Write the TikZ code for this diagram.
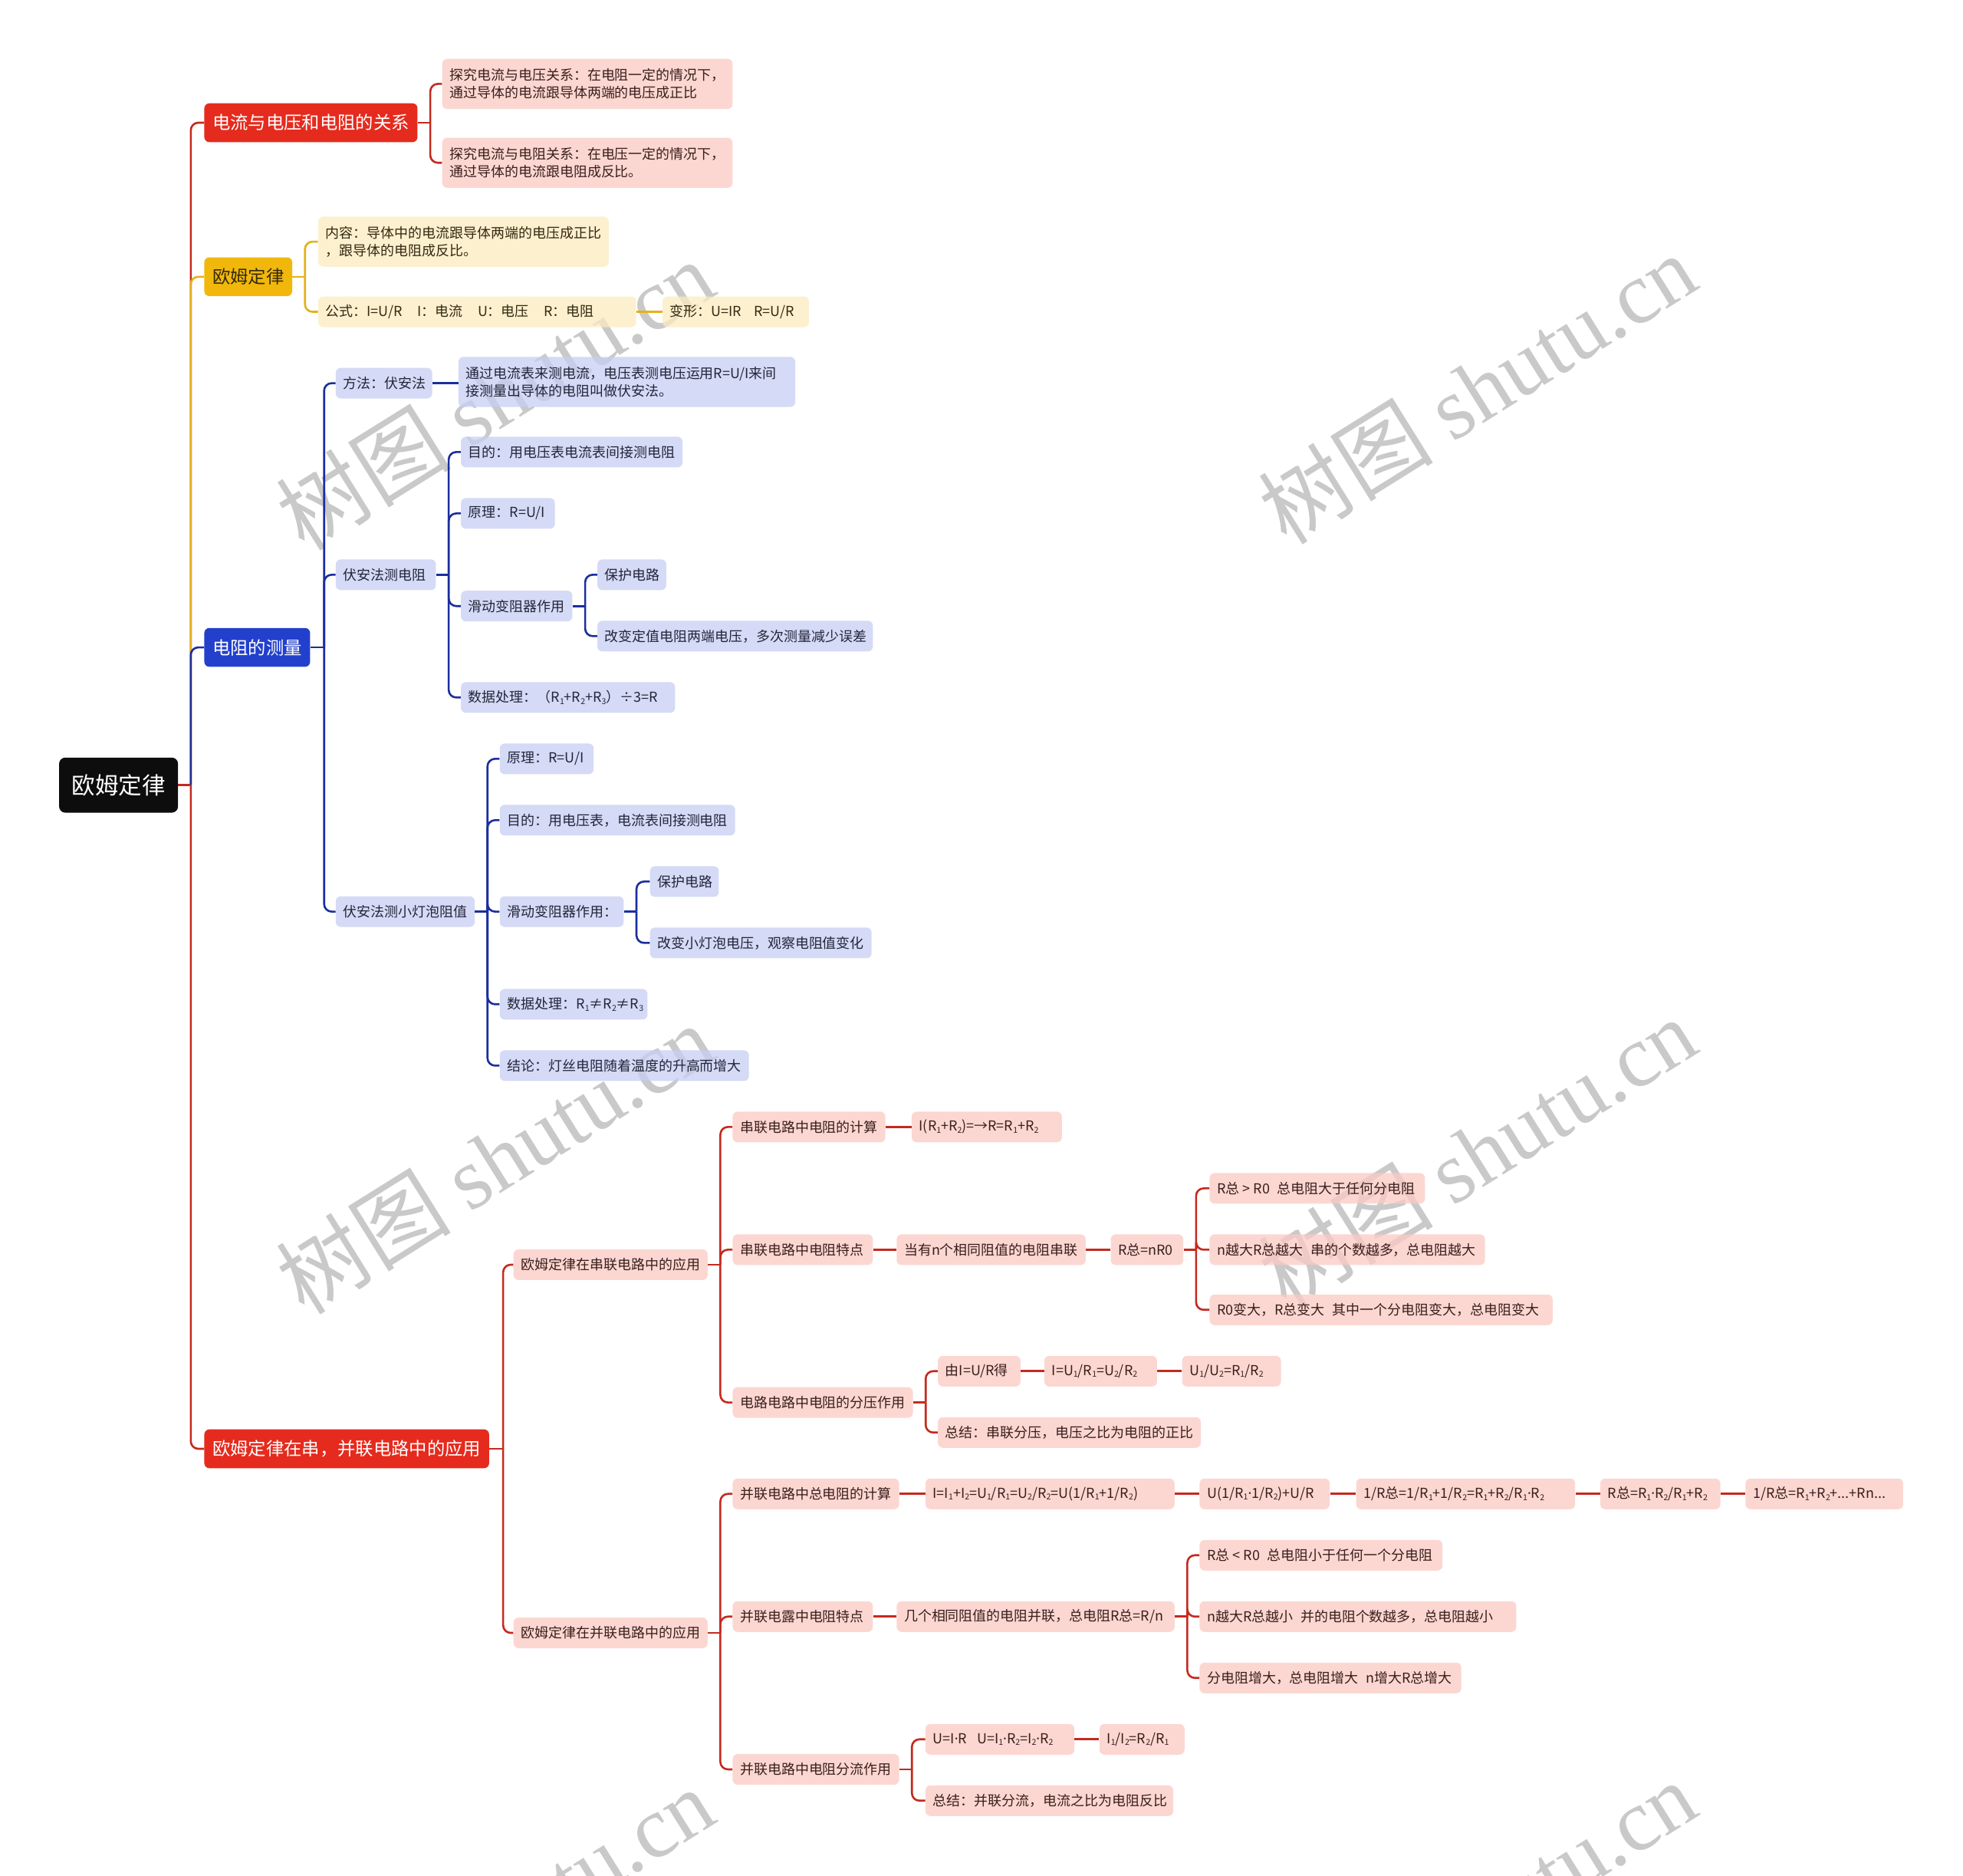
\documentclass[tikz,border=0pt]{standalone}
\usepackage{fontspec}
\setmainfont{Noto Sans CJK SC}
\newfontfamily\wmlat{Liberation Serif}
\newfontfamily\latf{Noto Sans}
\usetikzlibrary{calc}
\definecolor{rootc}{HTML}{0D0D0D}
\definecolor{redL}{HTML}{E52B1E}
\definecolor{yelL}{HTML}{F1B80B}
\definecolor{bluL}{HTML}{2340CC}
\definecolor{pinkF}{HTML}{FBCAC4}
\definecolor{yelF}{HTML}{FCEBC0}
\definecolor{bluF}{HTML}{C7CEF3}
\definecolor{redC}{HTML}{C42A1F}
\definecolor{yelC}{HTML}{E3B21A}
\definecolor{bluC}{HTML}{1B2E9E}
\definecolor{txtR}{HTML}{3A1E1B}
\definecolor{txtY}{HTML}{33290F}
\definecolor{txtB}{HTML}{23263A}
\definecolor{wmc}{HTML}{C9C9C9}
\newcommand\sbs[1]{\raisebox{-0.25ex}{\fontsize{6.5}{7}\selectfont #1}}
\newcommand\cdt{{\latf ·}}
\tikzset{
 nb/.style={rounded corners=4pt, anchor=west, inner xsep=6pt, inner ysep=2pt, minimum height=24.5pt, font=\fontsize{11}{14}\selectfont, fill opacity=0.75, text opacity=1},
 pk/.style={nb, fill=pinkF, text=txtR},
 yl/.style={nb, fill=yelF, text=txtY},
 lv/.style={nb, fill=bluF, text=txtB},
 two/.style={align=left, minimum height=40pt, text width=#1pt-12pt},
 bw/.style={minimum width=#1pt},
 lw/.style={execute at begin node={\hbox to \dimexpr #1pt-12pt\relax\bgroup}, execute at end node={\hfil\egroup}},
 topn/.style={rounded corners=4pt, anchor=west, inner xsep=6.5pt, minimum height=31pt, font=\fontsize{14.3}{16}\selectfont, text=white},
 rc/.style={draw=redC, line width=1.6pt},
 yc/.style={draw=yelC, line width=1.6pt},
 bc/.style={draw=bluC, line width=1.6pt},
 br/.style={rounded corners=6pt},
 wm/.style={text=wmc, rotate=32, font=\fontsize{70}{70}\selectfont},
}
\begin{document}
\begin{tikzpicture}[x=1pt,y=-1pt]
\path[use as bounding box, fill=white] (0,0) rectangle (1568,1498);

% ---------- watermarks (behind) ----------
\foreach \wx/\wy [count=\i] in {395/315, 1180/310, 395/925, 1180/920, 395/1535, 1180/1530}
  \node[wm] (wm\i) at (\wx,\wy) {树图 {\wmlat shutu.cn}};

% ---------- nodes ----------
\node[rounded corners=5pt, anchor=west, fill=rootc, text=white, minimum width=95pt, minimum height=44pt, font=\fontsize{18.7}{20}\selectfont] (root) at (47,627) {欧姆定律};

\node[topn, fill=redL, bw=170] (A) at (163,98) {电流与电压和电阻的关系};
\node[topn, fill=yelL, text=txtY, bw=70] (B) at (163,221) {欧姆定律};
\node[topn, fill=bluL, bw=84] (C) at (163,517) {电阻的测量};
\node[topn, fill=redL, bw=226] (D) at (163,1157) {欧姆定律在串，并联电路中的应用};

% A children
\node[pk, two=232] (A1) at (353,67) {探究电流与电压关系：在电阻一定的情况下，\\通过导体的电流跟导体两端的电压成正比};
\node[pk, two=232] (A2) at (353,130) {探究电流与电阻关系：在电压一定的情况下，\\通过导体的电流跟电阻成反比。};

% B children
\node[yl, two=232] (B1) at (254,193) {内容：导体中的电流跟导体两端的电压成正比\\，跟导体的电阻成反比。};
\node[yl, lw=254] (B2) at (254,249) {公式：I=U/R\hspace{12pt}I：电流\hspace{12pt}U：电压\hspace{12pt}R：电阻};
\node[yl, lw=117] (B3) at (529,249) {变形：U=IR\hspace{10pt}R=U/R};

% C children
\node[lv, lw=77] (C1) at (268,306) {方法：伏安法};
\node[lv, two=269] (C1a) at (366,305) {通过电流表来测电流，电压表测电压运用R=U/I来间\\接测量出导体的电阻叫做伏安法。};
\node[lv, lw=80] (C2) at (268,459) {伏安法测电阻};
\node[lv, lw=177] (C2a) at (368,361) {目的：用电压表电流表间接测电阻};
\node[lv, lw=75] (C2b) at (368,410) {原理：R=U/I};
\node[lv, lw=89] (C2c) at (368,484) {滑动变阻器作用};
\node[lv, lw=55] (C2c1) at (477,459) {保护电路};
\node[lv, lw=220] (C2c2) at (477,508) {改变定值电阻两端电压，多次测量减少误差};
\node[lv, lw=171] (C2d) at (368,557) {数据处理：（R\sbs1+R\sbs2+R\sbs3）÷3=R};
\node[lv, lw=111] (C3) at (268,728) {伏安法测小灯泡阻值};
\node[lv, lw=75] (C3a) at (399,606) {原理：R=U/I};
\node[lv, lw=188] (C3b) at (399,655) {目的：用电压表，电流表间接测电阻};
\node[lv, lw=99] (C3c) at (399,728) {滑动变阻器作用：};
\node[lv, lw=55] (C3c1) at (519,704) {保护电路};
\node[lv, lw=177] (C3c2) at (519,753) {改变小灯泡电压，观察电阻值变化};
\node[lv, lw=118] (C3d) at (399,802) {数据处理：R\sbs1≠R\sbs2≠R\sbs3};
\node[lv, lw=199] (C3e) at (399,851) {结论：灯丝电阻随着温度的升高而增大};

% D children
\node[pk, lw=155] (D1) at (410,1010) {欧姆定律在串联电路中的应用};
\node[pk, lw=122] (D1a) at (585,900) {串联电路中电阻的计算};
\node[pk, lw=120] (D1a1) at (728,900) {I(R\sbs1+R\sbs2)=→R=R\sbs1+R\sbs2};
\node[pk, lw=112] (D1b) at (585,998) {串联电路中电阻特点};
\node[pk, lw=151] (D1b1) at (716,998) {当有n个相同阻值的电阻串联};
\node[pk, lw=58] (D1b2) at (887,998) {R总=nR0};
\node[pk, lw=172] (D1b2a) at (966,949) {R总 > R0\hspace{6pt}总电阻大于任何分电阻};
\node[pk, lw=220] (D1b2b) at (966,998) {n越大R总越大\hspace{6pt}串的个数越多，总电阻越大};
\node[pk, lw=274] (D1b2c) at (966,1046) {R0变大，R总变大\hspace{6pt}其中一个分电阻变大，总电阻变大};
\node[pk, lw=144] (D1c) at (585,1120) {电路电路中电阻的分压作用};
\node[pk, lw=66] (D1c1) at (749,1095) {由I=U/R得};
\node[pk, lw=90] (D1c1a) at (834,1095) {I=U\sbs1/R\sbs1=U\sbs2/R\sbs2};
\node[pk, lw=79] (D1c1b) at (944,1095) {U\sbs1/U\sbs2=R\sbs1/R\sbs2};
\node[pk, lw=210] (D1c2) at (749,1144) {总结：串联分压，电压之比为电阻的正比};

\node[pk, lw=155] (D2) at (410,1304) {欧姆定律在并联电路中的应用};
\node[pk, lw=133] (D2a) at (585,1193) {并联电路中总电阻的计算};
\node[pk, lw=199] (D2a1) at (739,1193) {I=I\sbs1+I\sbs2=U\sbs1/R\sbs1=U\sbs2/R\sbs2=U(1/R\sbs1+1/R\sbs2)};
\node[pk, lw=104] (D2a2) at (958,1193) {U(1/R\sbs1\cdt1/R\sbs2)+U/R};
\node[pk, lw=175] (D2a3) at (1083,1193) {1/R总=1/R\sbs1+1/R\sbs2=R\sbs1+R\sbs2/R\sbs1\cdt R\sbs2};
\node[pk, lw=96] (D2a4) at (1278,1193) {R总=R\sbs1\cdt R\sbs2/R\sbs1+R\sbs2};
\node[pk, lw=126] (D2a5) at (1394,1193) {1/R总=R\sbs1+R\sbs2+...+Rn...};
\node[pk, lw=112] (D2b) at (585,1291) {并联电露中电阻特点};
\node[pk, lw=222] (D2b1) at (716,1291) {几个相同阻值的电阻并联，总电阻R总=R/n};
\node[pk, lw=194] (D2b1a) at (958,1242) {R总 < R0\hspace{6pt}总电阻小于任何一个分电阻};
\node[pk, lw=253] (D2b1b) at (958,1291) {n越大R总越小\hspace{6pt}并的电阻个数越多，总电阻越小};
\node[pk, lw=209] (D2b1c) at (958,1340) {分电阻增大，总电阻增大\hspace{6pt}n增大R总增大};
\node[pk, lw=133] (D2c) at (585,1413) {并联电路中电阻分流作用};
\node[pk, lw=119] (D2c1) at (739,1389) {U=I\cdt R\hspace{8pt}U=I\sbs1\cdt R\sbs2=I\sbs2\cdt R\sbs2};
\node[pk, lw=68] (D2c1a) at (878,1389) {I\sbs1/I\sbs2=R\sbs2/R\sbs1};
\node[pk, lw=198] (D2c2) at (739,1438) {总结：并联分流，电流之比为电阻反比};

% ---------- trunk coordinates ----------
\coordinate (rT) at ([xshift=10pt]root.east);
\coordinate (aT) at ([xshift=10pt]A.east);
\coordinate (bT) at ([xshift=10pt]B.east);
\coordinate (cT) at ([xshift=11pt]C.east);
\coordinate (c2T) at ([xshift=10pt]C2.east);
\coordinate (c2cT) at ([xshift=10pt]C2c.east);
\coordinate (c3T) at ([xshift=10pt]C3.east);
\coordinate (c3cT) at ([xshift=10pt]C3c.east);
\coordinate (dT) at ([xshift=11pt]D.east);
\coordinate (d1T) at ([xshift=10pt]D1.east);
\coordinate (d1bT) at ([xshift=10pt]D1b2.east);
\coordinate (d1cT) at ([xshift=10pt]D1c.east);
\coordinate (d2T) at ([xshift=10pt]D2.east);
\coordinate (d2bT) at ([xshift=10pt]D2b1.east);
\coordinate (d2cT) at ([xshift=10pt]D2c.east);

% ---------- connectors: root ----------
\draw[rc] (root.east) -- (rT);
\draw[rc,br] (rT) |- (A.west);
\draw[yc,br] (rT) |- (B.west);
\draw[bc,br] (rT) |- (C.west);
\draw[rc,br] (rT) |- (D.west);

% A
\draw[rc] (A.east) -- (aT);
\draw[rc,br] (aT) |- (A1.west);
\draw[rc,br] (aT) |- (A2.west);
% B
\draw[yc] (B.east) -- (bT);
\draw[yc,br] (bT) |- (B1.west);
\draw[yc,br] (bT) |- (B2.west);
\draw[yc] (B2.east) -- (B3.west);
% C
\draw[bc] (C.east) -- (cT);
\draw[bc,br] (cT) |- (C1.west);
\draw[bc,br] (cT) |- (C2.west);
\draw[bc,br] (cT) |- (C3.west);
\draw[bc] (C1.east) -- (C1a.west |- C1.east);
\draw[bc] (C2.east) -- (c2T);
\draw[bc,br] (c2T) |- (C2a.west);
\draw[bc,br] (c2T) |- (C2b.west);
\draw[bc,br] (c2T) |- (C2c.west);
\draw[bc,br] (c2T) |- (C2d.west);
\draw[bc] (C2c.east) -- (c2cT);
\draw[bc,br] (c2cT) |- (C2c1.west);
\draw[bc,br] (c2cT) |- (C2c2.west);
\draw[bc] (C3.east) -- (c3T);
\draw[bc,br] (c3T) |- (C3a.west);
\draw[bc,br] (c3T) |- (C3b.west);
\draw[bc,br] (c3T) |- (C3c.west);
\draw[bc,br] (c3T) |- (C3d.west);
\draw[bc,br] (c3T) |- (C3e.west);
\draw[bc] (C3c.east) -- (c3cT);
\draw[bc,br] (c3cT) |- (C3c1.west);
\draw[bc,br] (c3cT) |- (C3c2.west);
% D
\draw[rc] (D.east) -- (dT);
\draw[rc,br] (dT) |- (D1.west);
\draw[rc,br] (dT) |- (D2.west);
\draw[rc] (D1.east) -- (d1T);
\draw[rc,br] (d1T) |- (D1a.west);
\draw[rc,br] (d1T) |- (D1b.west);
\draw[rc,br] (d1T) |- (D1c.west);
\draw[rc] (D1a.east) -- (D1a1.west);
\draw[rc] (D1b.east) -- (D1b1.west);
\draw[rc] (D1b1.east) -- (D1b2.west);
\draw[rc] (D1b2.east) -- (d1bT);
\draw[rc,br] (d1bT) |- (D1b2a.west);
\draw[rc,br] (d1bT) |- (D1b2b.west);
\draw[rc,br] (d1bT) |- (D1b2c.west);
\draw[rc] (D1c.east) -- (d1cT);
\draw[rc,br] (d1cT) |- (D1c1.west);
\draw[rc,br] (d1cT) |- (D1c2.west);
\draw[rc] (D1c1.east) -- (D1c1a.west);
\draw[rc] (D1c1a.east) -- (D1c1b.west);
\draw[rc] (D2.east) -- (d2T);
\draw[rc,br] (d2T) |- (D2a.west);
\draw[rc,br] (d2T) |- (D2b.west);
\draw[rc,br] (d2T) |- (D2c.west);
\draw[rc] (D2a.east) -- (D2a1.west);
\draw[rc] (D2a1.east) -- (D2a2.west);
\draw[rc] (D2a2.east) -- (D2a3.west);
\draw[rc] (D2a3.east) -- (D2a4.west);
\draw[rc] (D2a4.east) -- (D2a5.west);
\draw[rc] (D2b.east) -- (D2b1.west);
\draw[rc] (D2b1.east) -- (d2bT);
\draw[rc,br] (d2bT) |- (D2b1a.west);
\draw[rc,br] (d2bT) |- (D2b1b.west);
\draw[rc,br] (d2bT) |- (D2b1c.west);
\draw[rc] (D2c.east) -- (d2cT);
\draw[rc,br] (d2cT) |- (D2c1.west);
\draw[rc,br] (d2cT) |- (D2c2.west);
\draw[rc] (D2c1.east) -- (D2c1a.west);
\end{tikzpicture}
\end{document}
